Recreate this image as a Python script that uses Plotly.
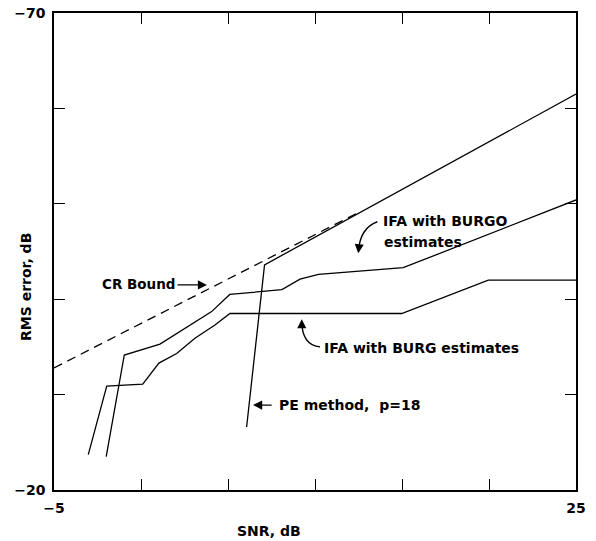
import plotly.graph_objects as go

# ---- data ----
cr_x = [-5.0, 12.4]
cr_y = [-32.8, -49.0]

pe_x = [6.07, 7.1, 25.0]
pe_y = [-26.6, -43.6, -61.5]

burgo_x = [-2.0, -0.96, 1.09, 4.06, 5.1, 8.1, 9.14, 10.2, 15.07, 25.0]
burgo_y = [-23.5, -34.15, -35.3, -38.7, -40.5, -41.0, -42.1, -42.6, -43.3, -50.4]

burg_x = [-3.03, -1.97, 0.1, 1.03, 2.05, 3.1, 4.25, 5.11, 14.98, 19.96, 25.0]
burg_y = [-23.7, -30.9, -31.1, -33.3, -34.3, -35.9, -37.3, -38.5, -38.5, -42.0, -42.0]

x_tickvals = [-5, 0, 5, 10, 15, 20, 25]
x_ticktext = ["−5", "", "", "", "", "", "25"]
y_tickvals = [-70, -60, -50, -40, -30, -20]
y_ticktext = ["−70", "", "", "", "", "−20"]

FONT = "DejaVu Sans"
fig = go.Figure()

line = dict(color="black", width=1.3)
fig.add_trace(go.Scatter(x=cr_x, y=cr_y, mode="lines",
                         line=dict(color="black", width=1.3, dash="9px,6px")))
fig.add_trace(go.Scatter(x=pe_x, y=pe_y, mode="lines", line=line))
fig.add_trace(go.Scatter(x=burgo_x, y=burgo_y, mode="lines", line=line))
fig.add_trace(go.Scatter(x=burg_x, y=burg_y, mode="lines", line=line))

tfont = dict(family=FONT, size=14, color="black", weight="bold")

def label(text, x, y, size=14):
    fig.add_annotation(x=x, y=y, text=text, showarrow=False, xanchor="left",
                       yanchor="middle", font=dict(tfont, size=size))

label("CR Bound", -2.36, -41.6, 13.5)
label("PE method,  p=18", 7.82, -28.86)
label("IFA with BURG estimates", 10.39, -34.85)
label("IFA with BURGO", 13.78, -48.2)
label("estimates", 13.83, -46.0)

# straight arrows
def arrow(x0, y0, x1, y1):
    fig.add_annotation(x=x1, y=y1, ax=x0, ay=y0, xref="x", yref="y",
                       axref="x", ayref="y", text="", showarrow=True,
                       arrowhead=2, arrowsize=1.3, arrowwidth=1.4,
                       arrowcolor="black")

arrow(2.01, -41.5, 3.79, -41.5)
arrow(7.59, -28.9, 6.44, -28.9)

# curved arrows
fig.add_shape(type="path", path="M 10.29,-35.0 Q 9.25,-35.2 9.24,-37.7",
              line=dict(color="black", width=1.4))
fig.add_annotation(x=9.24, y=-37.9, ax=0, ay=10, text="", showarrow=True,
                   arrowhead=2, arrowsize=1.3, arrowwidth=1.4, arrowcolor="black")
fig.add_shape(type="path", path="M 13.58,-48.12 Q 12.59,-47.46 12.49,-45.0",
              line=dict(color="black", width=1.4))
fig.add_annotation(x=12.49, y=-44.81, ax=1, ay=-10, text="", showarrow=True,
                   arrowhead=2, arrowsize=1.3, arrowwidth=1.4, arrowcolor="black")

# axis titles
fig.add_annotation(xref="paper", yref="paper", x=-0.0536, y=0.4256,
                   xanchor="center", yanchor="middle",
                   text="RMS error, dB", textangle=-90, showarrow=False,
                   font=tfont)
fig.add_annotation(xref="paper", yref="paper", x=0.411, y=-0.086,
                   xanchor="center", yanchor="middle",
                   text="SNR, dB", showarrow=False, font=tfont)

axis_common = dict(showgrid=False, zeroline=False, showline=True, linecolor="black",
                   linewidth=1.6, mirror="ticks", ticks="inside", ticklen=11,
                   tickwidth=1.4, tickcolor="black", automargin=False,
                   tickfont=dict(family=FONT, size=14, color="black", weight="bold"))

fig.update_layout(
    width=596, height=541,
    margin=dict(l=54, r=20, t=13, b=51),
    paper_bgcolor="white", plot_bgcolor="white",
    showlegend=False,
    xaxis=dict(range=[-5, 25], tickmode="array", tickvals=x_tickvals,
               ticktext=x_ticktext, ticklabelstandoff=4, **axis_common),
    yaxis=dict(range=[-20, -70], tickmode="array", tickvals=y_tickvals,
               ticktext=y_ticktext, ticklabelstandoff=4, **axis_common),
)

fig.write_html("out.html", config={"displayModeBar": False},
               post_script="document.body.style.margin='0';document.body.style.padding='0';")
